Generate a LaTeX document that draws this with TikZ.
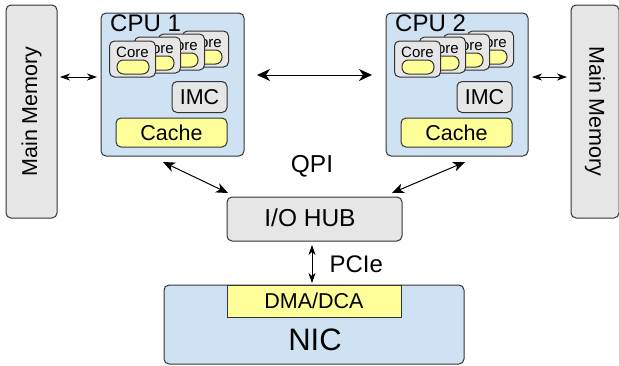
\documentclass[tikz,border=0pt]{standalone}
\usepackage{fontspec}
\setmainfont{Liberation Sans}
\usetikzlibrary{arrows.meta}
\definecolor{cpublue}{HTML}{CFE2F3}
\definecolor{boxgray}{HTML}{E6E6E6}
\definecolor{ylw}{HTML}{FFFF99}
\definecolor{edge}{HTML}{333333}
\tikzset{
  box/.style={draw=edge, line width=1pt, rounded corners=5pt, inner sep=0pt, anchor=center},
  cpubox/.style={box, fill=cpublue, minimum width=143pt, minimum height=143pt},
  membox/.style={box, fill=boxgray, minimum width=51pt, minimum height=213pt},
  corebox/.style={box, fill=boxgray, minimum width=46pt, minimum height=36pt},
  pill/.style={draw=edge, line width=1pt, fill=ylw, rounded corners=6.5pt, minimum width=32pt, minimum height=14pt, inner sep=0pt},
  lbl/.style={inner sep=0pt, font=\fontsize{#1}{#1}\selectfont},
  lbl/.default=22,
  arrB/.style={line width=1pt, {Stealth[length=13pt,width=12pt,inset=4pt]}-{Stealth[length=13pt,width=12pt,inset=4pt]}},
  arrS/.style={line width=1pt, {Stealth[length=10pt,width=7pt,inset=3pt]}-{Stealth[length=10pt,width=7pt,inset=3pt]}},
  arrM/.style={line width=1pt, {Stealth[length=12pt,width=10pt,inset=3.5pt]}-{Stealth[length=12pt,width=10pt,inset=3.5pt]}},
}
\newcommand{\corestack}[2]{%
  % #1 = x shift, #2 = name prefix
  \foreach \i/\dx/\dy in {4/73/-10, 3/49/-7, 2/25/-4, 1/0/0} {
    \node[corebox] (#2core\i) at (#1+132.5+\dx, 59+\dy) {};
    \node[lbl=15, anchor=base] (#2coret\i) at (#1+132.5+\dx, 57+\dy) {Core};
    \node[pill] (#2pill\i) at (#1+133+\dx, 67+\dy) {};
  }%
}
\begin{document}
\begin{tikzpicture}[x=1pt, y=-1pt]
\useasboundingbox (0,0) rectangle (619,365);

% main memories
\node[membox] (memL) at (31.5,111.5) {};
\node[lbl=21.5, rotate=90] (memLt) at (memL.center) {Main Memory};
\node[membox, minimum width=48pt] (memR) at (595,111.5) {};
\node[lbl=21.5, rotate=-90] (memRt) at (memR.center) {Main Memory};

% CPU 1
\node[cpubox] (cpu1) at (172.5,84.5) {};
\node[lbl=24, anchor=base west] (cpu1t) at (110,31) {CPU 1};
\corestack{0}{a}
\node[box, fill=boxgray, minimum width=55pt, minimum height=31pt] (imc1) at (199.5,97) {};
\node[lbl=21.5] (imc1t) at (imc1.center) {IMC};
\node[box, fill=ylw, minimum width=111pt, minimum height=29pt] (cache1) at (171.5,132.5) {};
\node[lbl=21.5] (cache1t) at (cache1.center) {Cache};

% CPU 2
\node[cpubox, minimum width=142pt] (cpu2) at (457,84.5) {};
\node[lbl=24, anchor=base west] (cpu2t) at (395,31) {CPU 2};
\corestack{285}{b}
\node[box, fill=boxgray, minimum width=55pt, minimum height=31pt] (imc2) at (484.5,97) {};
\node[lbl=21.5] (imc2t) at (imc2.center) {IMC};
\node[box, fill=ylw, minimum width=111pt, minimum height=29pt] (cache2) at (456.5,132.5) {};
\node[lbl=21.5] (cache2t) at (cache2.center) {Cache};

% I/O hub
\node[box, fill=boxgray, minimum width=175pt, minimum height=44pt] (iohub) at (314.5,219) {};
\node[lbl=24.5, anchor=base] (iohubt) at (310,226) {I/O HUB};

% NIC
\node[box, fill=cpublue, minimum width=300pt, minimum height=79pt] (nic) at (314,324.5) {};
\node[draw=edge, line width=1pt, fill=ylw, minimum width=174pt, minimum height=32pt, inner sep=0pt] (dma) at (314,301) {};
\node[lbl=21.5] (dmat) at (dma.center) {DMA/DCA};
\node[lbl=31, anchor=base] (nict) at (315,350) {NIC};

% labels
\node[lbl=24.5, anchor=base] (qpi) at (312,172.7) {QPI};
\node[lbl=24, anchor=base west] (pcie) at (329.3,272.3) {PCIe};

% connectors
\coordinate (mlA) at (60,77);   \coordinate (mlB) at (97,77);
\coordinate (mrA) at (532,77);  \coordinate (mrB) at (567,77);
\coordinate (ccA) at (257,75);  \coordinate (ccB) at (372,75);
\coordinate (qlA) at (163,162); \coordinate (qlB) at (228,193);
\coordinate (qrA) at (465,162); \coordinate (qrB) at (392,193);
\coordinate (pA) at (312,245);  \coordinate (pB) at (312,283);
\draw[arrS] (mlA) -- (mlB);
\draw[arrS] (mrA) -- (mrB);
\draw[arrB] (ccA) -- (ccB);
\draw[arrM] (qlA) -- (qlB);
\draw[arrM] (qrA) -- (qrB);
\draw[arrS] (pA) -- (pB);
\end{tikzpicture}
\end{document}
